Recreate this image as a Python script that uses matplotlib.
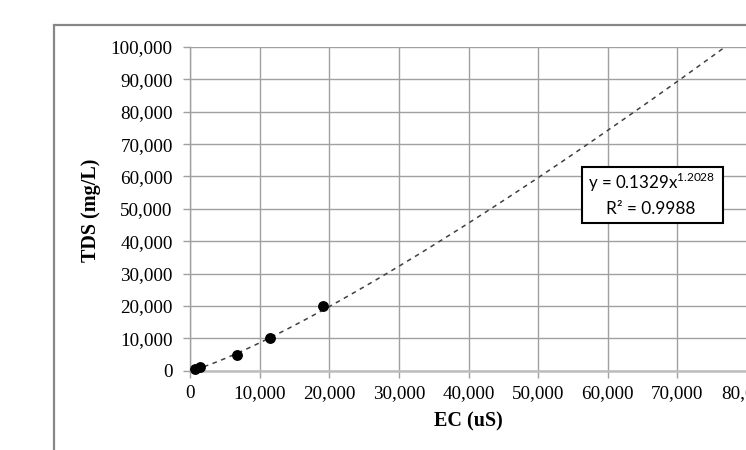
import numpy as np
import matplotlib
matplotlib.use("Agg")
import matplotlib.pyplot as plt
from matplotlib.patches import Rectangle
from matplotlib.ticker import FuncFormatter

# measured samples
ec_us = [750, 1400, 6700, 11500, 19100]
tds_mgl = [500, 1000, 5000, 10000, 20000]

# power trendline from the chart
coef_a = 0.1329
coef_b = 1.2028
r_squared = 0.9988

W, H = 746, 450
plt.rcParams["font.family"] = "Liberation Serif"
plt.rcParams["mathtext.fontset"] = "custom"
plt.rcParams["mathtext.rm"] = "Lato"

fig = plt.figure(figsize=(W / 100, H / 100), dpi=100)


def fx(x):
    return x / W


def fy(y):
    return 1 - y / H


# outer chart border (cut off at right and bottom)
fig.patches.append(Rectangle((fx(54.5), fy(500)), fx(800), fy(25.5) - fy(500),
                             transform=fig.transFigure, fill=False,
                             edgecolor="#878787", lw=1.6, zorder=0))

left, right, top, bottom = 190, 747, 47, 370.7
ax = fig.add_axes([fx(left), fy(bottom), fx(right - left), fy(top) - fy(bottom)])

ax.set_xlim(0, 80000)
ax.set_ylim(0, 100000)
ax.set_xticks(np.arange(0, 80001, 10000))
ax.set_yticks(np.arange(0, 100001, 10000))
fmt = FuncFormatter(lambda v, p: f"{int(v):,}")
ax.xaxis.set_major_formatter(fmt)
ax.yaxis.set_major_formatter(fmt)
ax.grid(True, color="#a0a0a0", lw=1.0)
ax.set_axisbelow(True)

for s in ["top", "right"]:
    ax.spines[s].set_visible(False)
ax.spines["left"].set_color("#a0a0a0")
ax.spines["left"].set_linewidth(1.0)
ax.spines["bottom"].set_color("#bdbdbd")
ax.spines["bottom"].set_linewidth(1.8)
ax.tick_params(axis="both", colors="#a0a0a0", labelcolor="black", length=5,
               width=1.0, labelsize=13.8)
ax.tick_params(axis="y", pad=7.5)
ax.tick_params(axis="x", pad=5.5)

xs = np.linspace(min(ec_us), 80000, 400)
ax.plot(xs, coef_a * xs ** coef_b, color="#404040", lw=1.1, ls=(0, (3, 3)),
        clip_on=True, zorder=2)
ax.plot(ec_us, tds_mgl, "o", color="black", ms=6.8, zorder=3, clip_on=False)

fig.text(fx(91), fy(210), "TDS (mg/L)", rotation=90, ha="center", va="center",
         fontsize=14.5, fontweight="bold")
fig.text(fx(468), fy(421), "EC (uS)", ha="center", va="center",
         fontsize=14.5, fontweight="bold")

# equation box
fig.patches.append(Rectangle((fx(582), fy(222.5)), fx(722.5 - 582), fy(167) - fy(222.5),
                             transform=fig.transFigure, facecolor="white",
                             edgecolor="black", lw=1.5, zorder=5))
fig.text(fx(652), fy(182), f"y = {coef_a}x$^{{{coef_b}}}$", ha="center", va="center",
         fontsize=12.2, family="Lato", zorder=6)
fig.text(fx(651), fy(209), f"R² = {r_squared}", ha="center", va="center",
         fontsize=12.4, family="Lato", zorder=6)

fig.savefig("out.png", dpi=100)
